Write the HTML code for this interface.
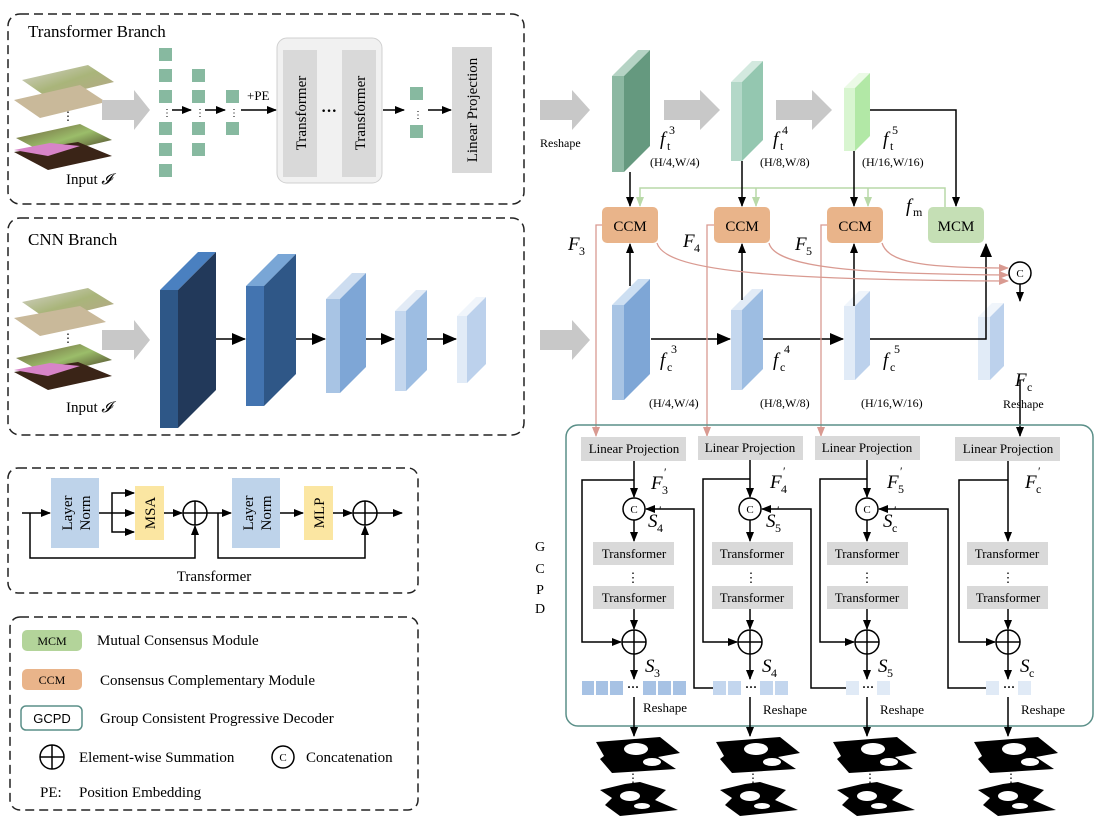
<!DOCTYPE html>
<html><head><meta charset="utf-8"><style>
html,body{margin:0;padding:0;background:#fff}
svg{display:block;font-family:"Liberation Serif",serif}
</style></head><body>
<svg width="1100" height="826" viewBox="0 0 1100 826" xmlns="http://www.w3.org/2000/svg">
<defs>
<marker id="a" markerWidth="10" markerHeight="8" refX="9" refY="4" orient="auto" markerUnits="userSpaceOnUse"><path d="M0,0 L10,4 L0,8z" fill="#000"/></marker>
<marker id="ab" markerWidth="14" markerHeight="12" refX="13" refY="6" orient="auto" markerUnits="userSpaceOnUse"><path d="M0,0 L14,6 L0,12z" fill="#000"/></marker>
<marker id="ag" markerWidth="10" markerHeight="8" refX="9" refY="4" orient="auto" markerUnits="userSpaceOnUse"><path d="M0,0 L10,4 L0,8z" fill="#b9d9a8"/></marker>
<marker id="ap" markerWidth="10" markerHeight="8" refX="9" refY="4" orient="auto" markerUnits="userSpaceOnUse"><path d="M0,0 L10,4 L0,8z" fill="#d99a91"/></marker>
<linearGradient id="im1" x1="0" y1="0" x2="1" y2="1"><stop offset="0" stop-color="#d8d4d0"/><stop offset=".5" stop-color="#a9b57a"/><stop offset="1" stop-color="#b8a58a"/></linearGradient>
<linearGradient id="im2" x1="0" y1="0" x2="1" y2="1"><stop offset="0" stop-color="#6b5a3a"/><stop offset=".5" stop-color="#9bbd6a"/><stop offset="1" stop-color="#3a2a1a"/></linearGradient>
</defs>

<rect x="8" y="14" width="516" height="190" rx="12" fill="none" stroke="#222" stroke-width="1.5" stroke-dasharray="9,5"/>
<text x="28" y="37" font-size="17">Transformer Branch</text>
<polygon points="22,80 88,65 114,82 48,98" fill="url(#im1)"/>
<polygon points="14,100 80,85 106,102 40,118" fill="#c9b99a"/>
<polygon points="16,138 80,124 112,140 48,155" fill="url(#im2)"/>
<polygon points="14,152 78,142 112,156 48,170" fill="#3a2417"/>
<polygon points="14,150 50,143 80,146 48,156" fill="#d784c8"/>
<text x="62" y="120" font-size="12">⋮</text>
<text x="66" y="184" font-size="15">Input <tspan font-style="italic">𝓘</tspan></text>
<polygon points="102,100 134,100 134,90 150,110 134,130 134,120 102,120" fill="#c8c8c8"/>
<g fill="#87b9a0">
<rect x="159" y="48" width="13" height="13"/><rect x="159" y="69" width="13" height="13"/><rect x="159" y="90" width="13" height="13"/><rect x="159" y="122" width="13" height="13"/><rect x="159" y="143" width="13" height="13"/><rect x="159" y="164" width="13" height="13"/>
<rect x="192" y="69" width="13" height="13"/><rect x="192" y="90" width="13" height="13"/><rect x="192" y="122" width="13" height="13"/><rect x="192" y="143" width="13" height="13"/>
<rect x="226" y="90" width="13" height="13"/><rect x="226" y="122" width="13" height="13"/>
<rect x="410" y="87" width="13" height="13"/><rect x="410" y="125" width="13" height="13"/>
</g>
<g font-size="10"><text x="162" y="116">⋮</text><text x="195" y="116">⋮</text><text x="229" y="116">⋮</text><text x="413" y="118">⋮</text></g>
<g stroke="#000" stroke-width="1.5" fill="none">
<line x1="172" y1="110" x2="191" y2="110" marker-end="url(#a)"/>
<line x1="205" y1="110" x2="225" y2="110" marker-end="url(#a)"/>
<line x1="241" y1="110" x2="276" y2="110" marker-end="url(#a)"/>
<line x1="383" y1="110" x2="404" y2="110" marker-end="url(#a)"/>
<line x1="428" y1="110" x2="451" y2="110" marker-end="url(#a)"/>
</g>
<text x="247" y="100" font-size="13">+PE</text>
<rect x="277" y="38" width="105" height="145" rx="10" fill="#f1f1f1" stroke="#d0d0d0"/>
<rect x="283" y="50" width="34" height="127" fill="#d9d9d9"/>
<rect x="342" y="50" width="34" height="127" fill="#d9d9d9"/>
<text x="329" y="116" font-size="16" font-weight="bold" text-anchor="middle">···</text>
<text transform="translate(306,113) rotate(-90)" font-size="15" text-anchor="middle">Transformer</text>
<text transform="translate(365,113) rotate(-90)" font-size="15" text-anchor="middle">Transformer</text>
<rect x="452" y="47" width="40" height="126" fill="#d9d9d9"/>
<text transform="translate(477,110) rotate(-90)" font-size="15" text-anchor="middle">Linear Projection</text>

<rect x="8" y="218" width="516" height="217" rx="12" fill="none" stroke="#222" stroke-width="1.5" stroke-dasharray="9,5"/>
<text x="28" y="245" font-size="17">CNN Branch</text>
<polygon points="22,302 88,288 114,304 48,320" fill="url(#im1)"/>
<polygon points="14,318 80,306 106,322 40,336" fill="#c9b99a"/>
<polygon points="16,358 80,344 112,360 48,375" fill="url(#im2)"/>
<polygon points="14,372 78,362 112,376 48,390" fill="#3a2417"/>
<polygon points="14,370 50,363 80,366 48,376" fill="#d784c8"/>
<text x="62" y="342" font-size="12">⋮</text>
<text x="66" y="412" font-size="15">Input <tspan font-style="italic">𝓘</tspan></text>
<polygon points="102,330 134,330 134,320 150,340 134,360 134,350 102,350" fill="#c8c8c8"/>
<polygon points="160,290 198,252 216,252 178,290" fill="#4a80c0"/><polygon points="178,290 216,252 216,390 178,428" fill="#22395a"/><rect x="160" y="290" width="18" height="138" fill="#2e5787"/>
<polygon points="246,286 278,254 296,254 264,286" fill="#79a6d6"/><polygon points="264,286 296,254 296,374 264,406" fill="#2f5787"/><rect x="246" y="286" width="18" height="120" fill="#4374b0"/>
<polygon points="326,299 352,273 366,273 340,299" fill="#cdddf0"/><polygon points="340,299 366,273 366,367 340,393" fill="#7ea6d6"/><rect x="326" y="299" width="14" height="94" fill="#a8c4e4"/>
<polygon points="395,311 416,290 427,290 406,311" fill="#e2ebf6"/><polygon points="406,311 427,290 427,370 406,391" fill="#9dbde2"/><rect x="395" y="311" width="11" height="80" fill="#c4d7ee"/>
<polygon points="457,316 476,297 486,297 467,316" fill="#f0f5fb"/><polygon points="467,316 486,297 486,364 467,383" fill="#bcd1ec"/><rect x="457" y="316" width="10" height="67" fill="#e1ebf7"/>
<g stroke="#000" stroke-width="1.5">
<line x1="216" y1="339" x2="245" y2="339" marker-end="url(#ab)"/>
<line x1="296" y1="339" x2="325" y2="339" marker-end="url(#ab)"/>
<line x1="366" y1="339" x2="394" y2="339" marker-end="url(#ab)"/>
<line x1="427" y1="339" x2="456" y2="339" marker-end="url(#ab)"/>
</g>

<rect x="8" y="468" width="410" height="125" rx="10" fill="none" stroke="#222" stroke-width="1.5" stroke-dasharray="9,5"/>
<rect x="51" y="478" width="48" height="70" fill="#bed3ea"/>
<rect x="232" y="478" width="48" height="70" fill="#bed3ea"/>
<rect x="135" y="486" width="29" height="54" fill="#fbe6a2"/>
<rect x="304" y="486" width="29" height="54" fill="#fbe6a2"/>
<g font-size="15" text-anchor="middle">
<text transform="translate(72,513) rotate(-90)">Layer</text><text transform="translate(90,513) rotate(-90)">Norm</text>
<text transform="translate(253,513) rotate(-90)">Layer</text><text transform="translate(271,513) rotate(-90)">Norm</text>
<text transform="translate(155,513) rotate(-90)">MSA</text><text transform="translate(324,513) rotate(-90)">MLP</text>
</g>
<g stroke="#000" stroke-width="1.5" fill="none">
<line x1="22" y1="513" x2="50" y2="513" marker-end="url(#a)"/>
<polyline points="30,513 30,558 195,558 195,526" marker-end="url(#a)"/>
<line x1="99" y1="513" x2="134" y2="513" marker-end="url(#a)"/>
<polyline points="112,513 112,493 134,493" marker-end="url(#a)"/>
<polyline points="112,513 112,532 134,532" marker-end="url(#a)"/>
<line x1="164" y1="513" x2="182" y2="513" marker-end="url(#a)"/>
<circle cx="195" cy="513" r="12"/><line x1="183" y1="513" x2="207" y2="513"/><line x1="195" y1="501" x2="195" y2="525"/>
<line x1="207" y1="513" x2="231" y2="513" marker-end="url(#a)"/>
<polyline points="218,513 218,558 365,558 365,526" marker-end="url(#a)"/>
<line x1="280" y1="513" x2="303" y2="513" marker-end="url(#a)"/>
<line x1="333" y1="513" x2="352" y2="513" marker-end="url(#a)"/>
<circle cx="365" cy="513" r="12"/><line x1="353" y1="513" x2="377" y2="513"/><line x1="365" y1="501" x2="365" y2="525"/>
<line x1="377" y1="513" x2="402" y2="513" marker-end="url(#a)"/>
</g>
<text x="214" y="581" font-size="15" text-anchor="middle">Transformer</text>

<rect x="10" y="617" width="408" height="193" rx="10" fill="none" stroke="#222" stroke-width="1.5" stroke-dasharray="9,5"/>
<rect x="22" y="630" width="60" height="21" rx="5" fill="#b3d49a"/><text x="52" y="645" font-size="12" text-anchor="middle">MCM</text>
<text x="97" y="645" font-size="15">Mutual Consensus Module</text>
<rect x="22" y="669" width="60" height="21" rx="5" fill="#e9b48a"/><text x="52" y="684" font-size="12" text-anchor="middle">CCM</text>
<text x="100" y="685" font-size="15">Consensus Complementary Module</text>
<rect x="21" y="706" width="61" height="24" rx="5" fill="#fff" stroke="#5a8f88" stroke-width="1.5"/><text x="52" y="723" font-size="13" font-family="Liberation Sans,sans-serif" text-anchor="middle">GCPD</text>
<text x="100" y="723" font-size="15">Group Consistent Progressive Decoder</text>
<g stroke="#000" stroke-width="1.5" fill="none"><circle cx="52" cy="757" r="12"/><line x1="40" y1="757" x2="64" y2="757"/><line x1="52" y1="745" x2="52" y2="769"/><circle cx="283" cy="757" r="11"/></g>
<text x="283" y="761" font-size="11" text-anchor="middle">C</text>
<text x="79" y="762" font-size="15">Element-wise Summation</text>
<text x="306" y="762" font-size="15">Concatenation</text>
<text x="40" y="797" font-size="15">PE:</text><text x="79" y="797" font-size="15">Position Embedding</text>

<polygon points="540,100 572,100 572,90 590,110 572,130 572,120 540,120" fill="#c8c8c8"/>
<text x="540" y="147" font-size="12">Reshape</text>
<polygon points="540,330 572,330 572,320 590,340 572,360 572,350 540,350" fill="#c8c8c8"/>
<polygon points="664,100 700,100 700,90 720,110 700,130 700,120 664,120" fill="#c8c8c8"/>
<polygon points="776,100 812,100 812,90 832,110 812,130 812,120 776,120" fill="#c8c8c8"/>

<polygon points="612,76 638,50 650,50 624,76" fill="#b5d3c4"/><polygon points="624,76 650,50 650,146 624,172" fill="#65997f"/><rect x="612" y="76" width="12" height="96" fill="#8cb8a2"/>
<polygon points="731,82 752,61 763,61 742,82" fill="#d3e9df"/><polygon points="742,82 763,61 763,140 742,161" fill="#94c7b0"/><rect x="731" y="82" width="11" height="79" fill="#b3d8c8"/>
<polygon points="844,88 859,73 870,73 855,88" fill="#ebfae6"/><polygon points="855,88 870,73 870,136 855,151" fill="#b2e8a6"/><rect x="844" y="88" width="11" height="63" fill="#d8f5d0"/>
<polygon points="612,305 638,279 650,279 624,305" fill="#cddff2"/><polygon points="624,305 650,279 650,374 624,400" fill="#7ea6d6"/><rect x="612" y="305" width="12" height="95" fill="#a8c4e4"/>
<polygon points="731,310 752,289 763,289 742,310" fill="#e2ebf6"/><polygon points="742,310 763,289 763,369 742,390" fill="#9dbde2"/><rect x="731" y="310" width="11" height="80" fill="#c4d7ee"/>
<polygon points="844,306 859,291 870,291 855,306" fill="#f0f5fb"/><polygon points="855,306 870,291 870,365 855,380" fill="#bcd1ec"/><rect x="844" y="306" width="11" height="74" fill="#e1ebf7"/>
<polygon points="978,317 992,303 1004,303 990,317" fill="#f0f5fb"/><polygon points="990,317 1004,303 1004,366 990,380" fill="#bcd1ec"/><rect x="978" y="317" width="12" height="63" fill="#e1ebf7"/>

<g font-size="19" font-style="italic">
<text x="660" y="145">f</text><text x="773" y="145">f</text><text x="883" y="145">f</text>
<text x="660" y="366">f</text><text x="773" y="366">f</text><text x="883" y="366">f</text>
<text x="906" y="212">f</text>
<text x="568" y="250">F</text><text x="683" y="247">F</text><text x="795" y="250">F</text><text x="1015" y="386">F</text>
</g>
<g font-size="12">
<text x="667" y="150">t</text><text x="669" y="134">3</text>
<text x="780" y="150">t</text><text x="782" y="134">4</text>
<text x="890" y="150">t</text><text x="892" y="134">5</text>
<text x="667" y="371">c</text><text x="671" y="353">3</text>
<text x="780" y="371">c</text><text x="784" y="353">4</text>
<text x="890" y="371">c</text><text x="894" y="353">5</text>
<text x="913" y="216">m</text>
<text x="579" y="255">3</text><text x="694" y="252">4</text><text x="806" y="255">5</text><text x="1027" y="391">c</text>
<text x="650" y="166">(H/4,W/4)</text><text x="760" y="166">(H/8,W/8)</text><text x="862" y="166">(H/16,W/16)</text>
<text x="649" y="407">(H/4,W/4)</text><text x="760" y="407">(H/8,W/8)</text><text x="861" y="407">(H/16,W/16)</text>
<text x="1003" y="408">Reshape</text>
</g>

<g stroke-width="1.5" fill="none">
<polyline points="945,207 945,188 640,188 640,206" stroke="#b9d9a8" marker-end="url(#ag)"/>
<line x1="756" y1="188" x2="756" y2="206" stroke="#b9d9a8" marker-end="url(#ag)"/>
<line x1="868" y1="188" x2="868" y2="206" stroke="#b9d9a8" marker-end="url(#ag)"/>
</g>
<rect x="602" y="207" width="56" height="36" rx="5" fill="#e9b48a"/>
<rect x="714" y="207" width="56" height="36" rx="5" fill="#e9b48a"/>
<rect x="827" y="207" width="56" height="36" rx="5" fill="#e9b48a"/>
<rect x="928" y="207" width="56" height="36" rx="5" fill="#c5dfb5"/>
<g font-size="15" text-anchor="middle"><text x="630" y="231">CCM</text><text x="742" y="231">CCM</text><text x="855" y="231">CCM</text><text x="956" y="231">MCM</text></g>
<g stroke="#000" stroke-width="1.5" fill="none">
<line x1="630" y1="172" x2="630" y2="206" marker-end="url(#a)"/>
<line x1="742" y1="161" x2="742" y2="206" marker-end="url(#a)"/>
<line x1="854" y1="151" x2="854" y2="206" marker-end="url(#a)"/>
<polyline points="870,110 956,110 956,206" marker-end="url(#a)"/>
<line x1="630" y1="286" x2="630" y2="244" marker-end="url(#a)"/>
<line x1="742" y1="300" x2="742" y2="244" marker-end="url(#a)"/>
<line x1="854" y1="306" x2="854" y2="244" marker-end="url(#a)"/>
<polyline points="870,339 986,339 986,244" marker-end="url(#ab)"/>
<line x1="651" y1="339" x2="730" y2="339" marker-end="url(#ab)"/>
<line x1="763" y1="339" x2="843" y2="339" marker-end="url(#ab)"/>
<circle cx="1020" cy="273" r="11"/>
<line x1="1020" y1="284" x2="1020" y2="301" marker-end="url(#a)"/>
<line x1="1020" y1="380" x2="1020" y2="436" marker-end="url(#a)"/>
</g>
<text x="1020" y="277" font-size="11" text-anchor="middle">C</text>
<g stroke="#d99a91" stroke-width="1.3" fill="none">
<polyline points="602,225 596,225 596,436" marker-end="url(#ap)"/>
<polyline points="714,225 707,225 707,436" marker-end="url(#ap)"/>
<polyline points="827,225 821,225 821,436" marker-end="url(#ap)"/>
<path d="M657,243 C665,270 760,280 1008,281" marker-end="url(#ap)"/>
<path d="M769,243 C775,268 860,274 1008,275" marker-end="url(#ap)"/>
<path d="M882,243 C888,262 920,268 1008,268" marker-end="url(#ap)"/>
</g>

<rect x="566" y="425" width="527" height="301" rx="12" fill="none" stroke="#5a8f88" stroke-width="1.5"/>
<g font-size="14" text-anchor="middle"><text x="540" y="551">G</text><text x="540" y="573">C</text><text x="540" y="594">P</text><text x="540" y="613">D</text></g>
<g fill="#d9d9d9">
<rect x="581" y="437" width="105" height="24"/><rect x="698" y="436" width="105" height="24"/><rect x="815" y="436" width="105" height="24"/><rect x="955" y="437" width="105" height="24"/>
<rect x="593" y="542" width="81" height="23"/><rect x="712" y="542" width="81" height="23"/><rect x="827" y="542" width="81" height="23"/><rect x="967" y="542" width="81" height="23"/>
<rect x="593" y="586" width="81" height="23"/><rect x="712" y="586" width="81" height="23"/><rect x="827" y="586" width="81" height="23"/><rect x="967" y="586" width="81" height="23"/>
</g>
<g font-size="13" text-anchor="middle">
<text x="634" y="453">Linear Projection</text><text x="750" y="452">Linear Projection</text><text x="867" y="452">Linear Projection</text><text x="1008" y="453">Linear Projection</text>
<text x="634" y="558">Transformer</text><text x="752" y="558">Transformer</text><text x="867" y="558">Transformer</text><text x="1007" y="558">Transformer</text>
<text x="634" y="602">Transformer</text><text x="752" y="602">Transformer</text><text x="867" y="602">Transformer</text><text x="1008" y="602">Transformer</text>
<text x="633" y="582">⋮</text><text x="751" y="582">⋮</text><text x="867" y="582">⋮</text><text x="1008" y="582">⋮</text>
<text x="665" y="712">Reshape</text><text x="785" y="714">Reshape</text><text x="902" y="714">Reshape</text><text x="1043" y="714">Reshape</text>
</g>
<g fill="#a7c2e4"><rect x="582" y="681" width="12" height="14"/><rect x="596" y="681" width="12" height="14"/><rect x="610" y="681" width="13" height="14"/><rect x="643" y="681" width="13" height="14"/><rect x="658" y="681" width="13" height="14"/><rect x="673" y="681" width="13" height="14"/></g>
<g fill="#c3d6ee"><rect x="713" y="681" width="13" height="14"/><rect x="728" y="681" width="13" height="14"/><rect x="760" y="681" width="13" height="14"/><rect x="775" y="681" width="13" height="14"/></g>
<g fill="#e0eaf6"><rect x="846" y="681" width="13" height="14"/><rect x="877" y="681" width="13" height="14"/><rect x="986" y="681" width="13" height="14"/><rect x="1018" y="681" width="13" height="14"/></g>
<g font-size="12" font-weight="bold" text-anchor="middle"><text x="633" y="691">···</text><text x="751" y="691">···</text><text x="868" y="691">···</text><text x="1009" y="691">···</text></g>

<g stroke="#000" stroke-width="1.5" fill="none">
<line x1="634" y1="461" x2="634" y2="497" marker-end="url(#a)"/>
<circle cx="634" cy="509" r="11"/>
<line x1="634" y1="520" x2="634" y2="541" marker-end="url(#a)"/>
<line x1="634" y1="609" x2="634" y2="629" marker-end="url(#a)"/>
<polyline points="634,480 582,480 582,642 621,642" marker-end="url(#a)"/>
<circle cx="634" cy="642" r="12"/><line x1="622" y1="642" x2="646" y2="642"/><line x1="634" y1="630" x2="634" y2="654"/>
<line x1="634" y1="654" x2="634" y2="679" marker-end="url(#a)"/>
<line x1="634" y1="697" x2="634" y2="736" marker-end="url(#a)"/>
<line x1="750" y1="460" x2="750" y2="497" marker-end="url(#a)"/>
<circle cx="750" cy="509" r="11"/>
<line x1="750" y1="520" x2="750" y2="541" marker-end="url(#a)"/>
<line x1="750" y1="609" x2="750" y2="629" marker-end="url(#a)"/>
<polyline points="750,479 703,479 703,642 737,642" marker-end="url(#a)"/>
<circle cx="750" cy="642" r="12"/><line x1="738" y1="642" x2="762" y2="642"/><line x1="750" y1="630" x2="750" y2="654"/>
<line x1="750" y1="654" x2="750" y2="679" marker-end="url(#a)"/>
<line x1="750" y1="697" x2="750" y2="736" marker-end="url(#a)"/>
<polyline points="713,688 694,688 694,509 646,509" marker-end="url(#a)"/>
<line x1="867" y1="460" x2="867" y2="497" marker-end="url(#a)"/>
<circle cx="867" cy="509" r="11"/>
<line x1="867" y1="520" x2="867" y2="541" marker-end="url(#a)"/>
<line x1="867" y1="609" x2="867" y2="629" marker-end="url(#a)"/>
<polyline points="867,479 820,479 820,642 854,642" marker-end="url(#a)"/>
<circle cx="867" cy="642" r="12"/><line x1="855" y1="642" x2="879" y2="642"/><line x1="867" y1="630" x2="867" y2="654"/>
<line x1="867" y1="654" x2="867" y2="679" marker-end="url(#a)"/>
<line x1="867" y1="697" x2="867" y2="736" marker-end="url(#a)"/>
<polyline points="846,688 811,688 811,509 762,509" marker-end="url(#a)"/>
<line x1="1008" y1="461" x2="1008" y2="541" marker-end="url(#a)"/>
<line x1="1008" y1="609" x2="1008" y2="629" marker-end="url(#a)"/>
<polyline points="1008,480 959,480 959,642 995,642" marker-end="url(#a)"/>
<circle cx="1008" cy="642" r="12"/><line x1="996" y1="642" x2="1020" y2="642"/><line x1="1008" y1="630" x2="1008" y2="654"/>
<line x1="1008" y1="654" x2="1008" y2="679" marker-end="url(#a)"/>
<line x1="1008" y1="697" x2="1008" y2="736" marker-end="url(#a)"/>
<polyline points="986,688 948,688 948,509 879,509" marker-end="url(#a)"/>
</g>
<g font-size="11" text-anchor="middle"><text x="634" y="513">C</text><text x="750" y="513">C</text><text x="867" y="513">C</text></g>
<g font-size="19" font-style="italic">
<text x="651" y="489">F</text><text x="770" y="488">F</text><text x="887" y="488">F</text><text x="1025" y="488">F</text>
<text x="648" y="527">S</text><text x="766" y="527">S</text><text x="883" y="527">S</text>
<text x="645" y="672">S</text><text x="762" y="672">S</text><text x="878" y="672">S</text><text x="1020" y="672">S</text>
</g>
<g font-size="12">
<text x="662" y="494">3</text><text x="664" y="476">′</text>
<text x="781" y="493">4</text><text x="783" y="475">′</text>
<text x="898" y="493">5</text><text x="900" y="475">′</text>
<text x="1036" y="493">c</text><text x="1038" y="475">′</text>
<text x="657" y="532">4</text><text x="659" y="514">′</text>
<text x="775" y="532">5</text><text x="777" y="514">′</text>
<text x="892" y="532">c</text><text x="894" y="514">′</text>
<text x="654" y="677">3</text><text x="771" y="677">4</text><text x="887" y="677">5</text><text x="1029" y="677">c</text>
</g>

<g id="m1">
<polygon points="596,742 660,737 680,753 658,757 676,769 612,773 600,759 604,756" fill="#000"/>
<ellipse cx="636" cy="749" rx="12" ry="6" fill="#fff"/><ellipse cx="652" cy="762" rx="9" ry="4" fill="#fff"/>
<polygon points="600,790 625,784 640,782 666,790 655,800 678,810 620,816 605,805 612,798" fill="#000"/>
<ellipse cx="630" cy="796" rx="10" ry="5" fill="#fff"/><ellipse cx="642" cy="806" rx="8" ry="3" fill="#fff"/>
<text x="633" y="782" font-size="12" text-anchor="middle">⋮</text>
</g>
<use href="#m1" x="120"/>
<use href="#m1" x="237"/>
<use href="#m1" x="378"/>
</svg>
</body></html>
